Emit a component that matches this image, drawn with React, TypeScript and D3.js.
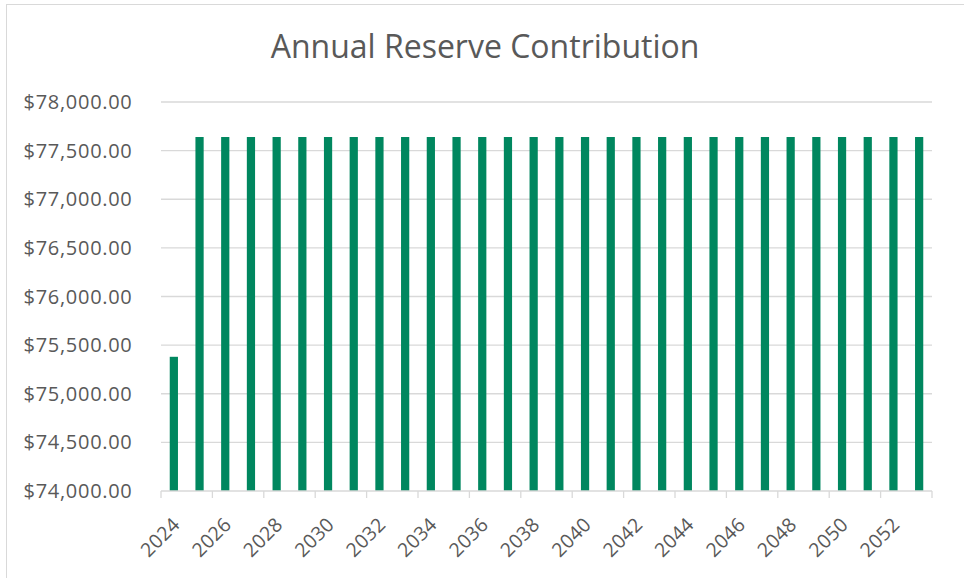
import React from "react";
import * as d3 from "d3";

const years: number[] = [
  2024, 2025, 2026, 2027, 2028, 2029, 2030, 2031, 2032, 2033,
  2034, 2035, 2036, 2037, 2038, 2039, 2040, 2041, 2042, 2043,
  2044, 2045, 2046, 2047, 2048, 2049, 2050, 2051, 2052, 2053,
];
const contributions: number[] = [
  75380, 77640, 77640, 77640, 77640, 77640, 77640, 77640, 77640, 77640,
  77640, 77640, 77640, 77640, 77640, 77640, 77640, 77640, 77640, 77640,
  77640, 77640, 77640, 77640, 77640, 77640, 77640, 77640, 77640, 77640,
];
const yTicks: number[] = [74000, 74500, 75000, 75500, 76000, 76500, 77000, 77500, 78000];
const title = "Annual Reserve Contribution";

const W = 964;
const H = 578;
const FONT = "'Open Sans', sans-serif";
const TEXT = "#595959";
const GRID = "#d9d9d9";
const BAR = "#00875f";

export default function App() {
  const left = 161;
  const right = 932;
  const top = 102;
  const bottom = 491;

  const x = d3
    .scaleBand<number>()
    .domain(years)
    .range([left, right])
    .paddingInner(0.68)
    .paddingOuter(0.34);
  const y = d3.scaleLinear().domain([74000, 78000]).range([bottom, top]);
  const step = x.step();
  const fmt = (v: number) => "$" + d3.format(",.2f")(v);

  const tickXs = d3.range(0, years.length + 1, 2).map((i) => left + i * step);

  return (
    <svg
      width={W}
      height={H}
      style={{ position: "absolute", left: 0, top: 0, background: "#fff" }}
    >
      <rect x={6.5} y={4.5} width={W + 10} height={H + 10} fill="#fff" stroke={GRID} strokeWidth={1} />
      <text
        x={485}
        y={58}
        textAnchor="middle"
        fontFamily={FONT}
        fontSize={32}
        fill={TEXT}
      >
        {title}
      </text>
      {yTicks.map((t) => (
        <g key={t}>
          {t !== 74000 && (
            <line x1={left} x2={right} y1={y(t)} y2={y(t)} stroke={GRID} strokeWidth={1.3} />
          )}
          <text
            x={132.5}
            y={y(t)}
            dy="0.35em"
            textAnchor="end"
            fontFamily={FONT}
            fontSize={20}
            letterSpacing={0.7}
            fill={TEXT}
          >
            {fmt(t)}
          </text>
        </g>
      ))}
      {years.map((yr, i) => (
        <rect
          key={yr}
          x={x(yr)}
          y={y(contributions[i])}
          width={x.bandwidth()}
          height={bottom - y(contributions[i])}
          fill={BAR}
        />
      ))}
      <line x1={left} x2={right} y1={bottom} y2={bottom} stroke={GRID} strokeWidth={1.3} />
      {tickXs.map((tx, i) => (
        <line key={i} x1={tx} x2={tx} y1={bottom} y2={bottom + 7} stroke={GRID} strokeWidth={1.3} />
      ))}
      {years
        .filter((_, i) => i % 2 === 0)
        .map((yr) => {
          const cx = (x(yr) as number) + x.bandwidth() / 2 + 2.5;
          const cy = bottom + 30;
          return (
            <text
              key={yr}
              x={cx}
              y={cy}
              dy="0.35em"
              textAnchor="end"
              transform={`rotate(-45, ${cx}, ${cy})`}
              fontFamily={FONT}
              fontSize={19.5}
              letterSpacing={0.3}
              fill={TEXT}
            >
              {yr}
            </text>
          );
        })}
    </svg>
  );
}
